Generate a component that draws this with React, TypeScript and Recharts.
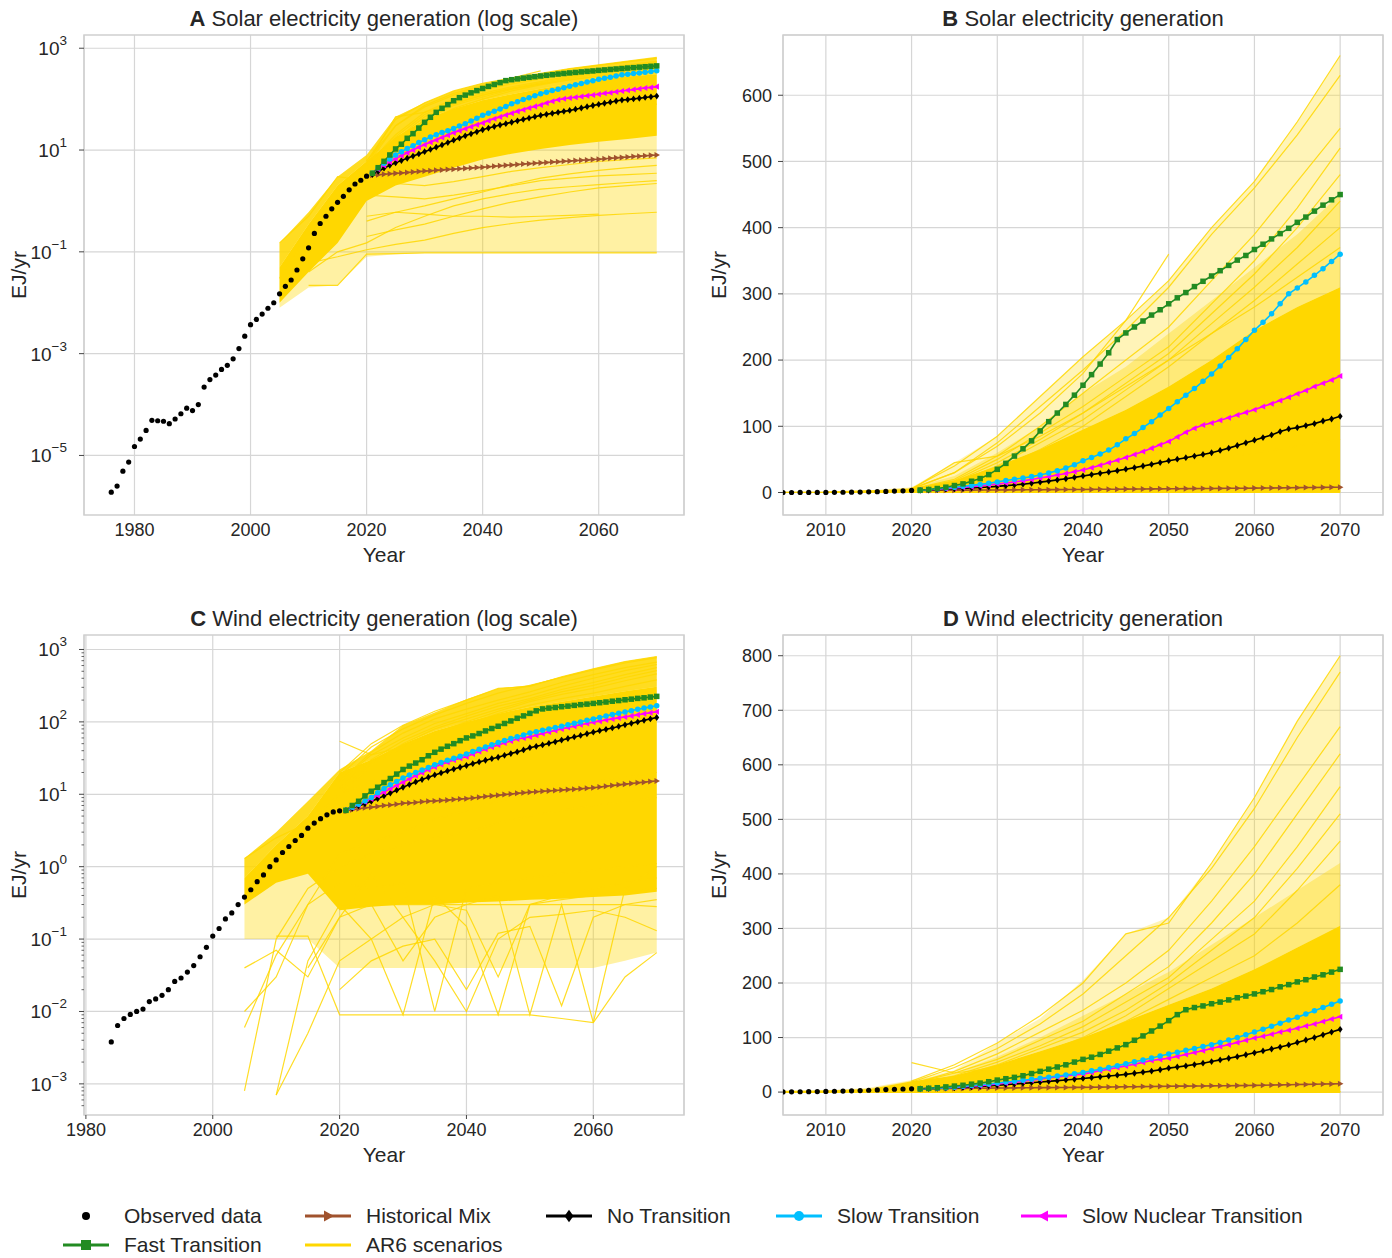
import React from "react";
import {
  ComposedChart,
  Line,
  Area,
  XAxis,
  YAxis,
  CartesianGrid,
  ReferenceArea,
  Label,
} from "recharts";

// ---------- observed data ----------
const observedSolarYears = [
  1976, 1977, 1978, 1979, 1980, 1981, 1982, 1983, 1984, 1985, 1986, 1987, 1988, 1989, 1990,
  1991, 1992, 1993, 1994, 1995, 1996, 1997, 1998, 1999, 2000, 2001, 2002, 2003, 2004, 2005,
  2006, 2007, 2008, 2009, 2010, 2011, 2012, 2013, 2014, 2015, 2016, 2017, 2018, 2019, 2020,
];
const observedSolar = [
  1.9e-6, 2.5e-6, 4.9e-6, 7.4e-6, 1.5e-5, 2.1e-5, 3.1e-5, 4.9e-5, 4.8e-5, 4.7e-5,
  4.2e-5, 5.2e-5, 6.6e-5, 8.5e-5, 7.6e-5, 1.0e-4, 2.2e-4, 3.1e-4, 3.8e-4, 4.9e-4,
  5.9e-4, 7.9e-4, 1.26e-3, 2.2e-3, 3.7e-3, 4.7e-3, 6.0e-3, 7.8e-3, 1.0e-2, 1.5e-2,
  2.1e-2, 2.8e-2, 4.4e-2, 7.3e-2, 0.12, 0.23, 0.36, 0.5, 0.7, 0.94,
  1.23, 1.65, 2.15, 2.55, 3.06,
];
const observedWindYears = [
  1984, 1985, 1986, 1987, 1988, 1989, 1990, 1991, 1992, 1993, 1994, 1995, 1996, 1997, 1998,
  1999, 2000, 2001, 2002, 2003, 2004, 2005, 2006, 2007, 2008, 2009, 2010, 2011, 2012, 2013,
  2014, 2015, 2016, 2017, 2018, 2019, 2020,
];
const observedWind = [
  3.8e-3, 6.4e-3, 8.0e-3, 9.1e-3, 1.0e-2, 1.08e-2, 1.37e-2, 1.49e-2, 1.67e-2, 2.0e-2,
  2.6e-2, 2.9e-2, 3.5e-2, 4.3e-2, 5.7e-2, 7.7e-2, 0.11, 0.14, 0.19, 0.23,
  0.3, 0.38, 0.48, 0.62, 0.77, 1.0, 1.24, 1.57, 1.9, 2.3,
  2.7, 3.4, 4.0, 4.6, 5.2, 5.7, 5.9,
];

// ---------- model scenarios (2021-2070) ----------
const scenarioYears = [
  2021, 2022, 2023, 2024, 2025, 2026, 2027, 2028, 2029, 2030,
  2031, 2032, 2033, 2034, 2035, 2036, 2037, 2038, 2039, 2040,
  2041, 2042, 2043, 2044, 2045, 2046, 2047, 2048, 2049, 2050,
  2051, 2052, 2053, 2054, 2055, 2056, 2057, 2058, 2059, 2060,
  2061, 2062, 2063, 2064, 2065, 2066, 2067, 2068, 2069, 2070,
];

const solarHistoricalMix = [
  3.2, 3.27, 3.34, 3.41, 3.48, 3.55, 3.62, 3.7, 3.78, 3.86,
  3.93, 4.0, 4.07, 4.14, 4.21, 4.28, 4.36, 4.44, 4.52, 4.6,
  4.7, 4.8, 4.9, 5.0, 5.1, 5.2, 5.3, 5.4, 5.5, 5.6,
  5.7, 5.8, 5.9, 6.0, 6.1, 6.2, 6.3, 6.4, 6.5, 6.6,
  6.74, 6.88, 7.02, 7.16, 7.3, 7.44, 7.58, 7.72, 7.86, 8.0,
];
const solarNoTransition = [
  3.3, 3.8, 4.4, 5, 5.6, 6.2, 6.9, 7.6, 8.4, 9.3,
  10.3, 11.4, 12.6, 14, 15.6, 17.2, 19, 20.8, 22.8, 25,
  27, 29, 31, 33, 35.2, 37.5, 40, 42.5, 45.2, 48,
  50.3, 52.6, 55, 57.5, 60, 63.5, 67, 71, 75, 79,
  83, 87, 92, 96, 98, 101, 104, 108, 111, 115,
];
const solarSlowTransition = [
  3.5, 4.5, 5.5, 6.7, 8, 9.3, 10.7, 12.2, 14, 16,
  18, 20, 22, 24, 26.5, 29.5, 33, 37, 42, 48,
  53, 58, 64, 72, 81, 89, 98, 107, 117, 127,
  137, 147, 157, 168, 179, 191, 204, 217, 231, 245,
  257, 270, 285, 300, 309, 318, 328, 338, 349, 360,
];
const solarSlowNuclear = [
  3.5, 4.2, 5, 5.8, 6.7, 7.7, 8.8, 10, 11.3, 12.7,
  14.2, 15.8, 17.6, 19.6, 21.8, 24, 26.3, 28.7, 31.3, 34,
  37.5, 41, 44.8, 48.8, 53, 57.5, 62, 67, 72, 77,
  84, 91, 97, 102, 105, 109, 113, 117, 121, 125,
  130, 134, 139, 144, 149, 154, 160, 165, 170, 176,
];
const solarFastTransition = [
  3.5, 4.5, 6, 8, 10.5, 13, 17, 21, 27, 35,
  44, 55, 66, 78, 93, 107, 120, 133, 147, 162,
  178, 194, 211, 231, 241, 250, 259, 268, 276, 285,
  294, 302, 311, 319, 327, 335, 343, 351, 358, 367,
  375, 383, 391, 399, 408, 416, 425, 434, 442, 450,
];

const windHistoricalMix = [
  5.9, 6.1, 6.3, 6.5, 6.6, 6.8, 7.0, 7.1, 7.3, 7.5,
  7.6, 7.7, 7.9, 8.0, 8.1, 8.2, 8.3, 8.45, 8.6, 8.7,
  8.9, 9.1, 9.3, 9.5, 9.7, 9.9, 10.1, 10.3, 10.5, 10.7,
  10.85, 11.0, 11.15, 11.3, 11.45, 11.6, 11.75, 11.9, 12.1, 12.3,
  12.6, 12.9, 13.2, 13.5, 13.8, 14.1, 14.4, 14.7, 15.0, 15.3,
];
const windNoTransition = [
  6, 6.4, 6.9, 7.4, 8, 8.7, 9.5, 10.4, 11.4, 12.5,
  13.6, 14.8, 16, 17.2, 18.5, 19.7, 21, 22.3, 23.6, 25,
  26.5, 28, 29.5, 31, 32.5, 34.5, 36.5, 38.5, 41, 44,
  46, 48, 50.5, 53, 56, 59, 62, 65, 68.5, 72,
  75.5, 79, 82.5, 86.5, 91, 95.5, 100, 105, 110, 115,
];
const windSlowTransition = [
  6, 6.6, 7.3, 8.1, 9, 10.5, 12, 13.5, 15, 16.8,
  18.4, 20, 21.7, 23.5, 25.5, 27.4, 29.4, 31.4, 33.6, 36,
  39, 42, 45, 48.5, 52, 55.5, 59, 62.5, 66, 70,
  73, 76.5, 80, 83.5, 87, 91, 95.5, 100, 105, 110,
  115, 120.5, 126, 132, 137, 143, 149, 155, 161, 167,
];
const windSlowNuclear = [
  6, 6.5, 7.1, 7.8, 8.6, 9.6, 10.7, 11.9, 13.2, 14.7,
  16.3, 18, 19.8, 21.8, 23.8, 25.8, 27.8, 29.8, 31.4, 33,
  36, 39, 42, 45, 48, 51, 54.5, 58, 60, 62,
  65.5, 69, 72.5, 76, 80, 83.5, 87, 91, 95, 99,
  102.5, 106, 110, 113.5, 117, 121, 125, 129.5, 134, 138,
];
const windFastTransition = [
  6, 7, 8, 9.5, 11, 12.5, 14.5, 16.5, 19, 22,
  24.5, 27, 30, 34, 38, 42, 46, 50, 55, 60,
  64, 69, 75, 81, 87, 95, 103, 112, 121, 131,
  142, 151, 155, 158, 162, 165, 169, 173, 176, 180,
  184, 188, 193, 197, 202, 206, 211, 215, 220, 225,
];

// ---------- AR6 scenario ensemble (5-year steps) ----------
const ar6Years = [2005, 2010, 2015, 2020, 2025, 2030, 2035, 2040, 2045, 2050, 2055, 2060, 2065, 2070];

// envelope of all scenarios, the densely packed core, and the upper region where lines still crowd
const ar6SolarMin = [0.008, 0.02, 0.022, 0.08, 0.09, 0.095, 0.095, 0.095, 0.095, 0.095, 0.095, 0.095, 0.095, 0.095];
const ar6SolarLow = [0.01, 0.04, 0.15, 1.0, 2, 3, 4.5, 6.5, 8.5, 10.5, 12.5, 14.5, 16.5, 19];
const ar6SolarHigh = [0.05, 0.35, 2, 6, 18, 40, 65, 95, 125, 160, 200, 245, 280, 310];
const ar6SolarCrowd = [0.1, 0.5, 2.5, 7, 25, 60, 100, 150, 190, 240, 290, 340, 390, 450];
const ar6SolarMax = [0.15, 0.6, 3, 8, 45, 85, 145, 205, 260, 320, 400, 470, 560, 660];

const ar6WindMin = [0.1, 0.1, 0.1, 0.04, 0.04, 0.04, 0.04, 0.04, 0.04, 0.04, 0.04, 0.04, 0.05, 0.065];
const ar6WindLow = [0.3, 0.6, 0.8, 0.25, 0.28, 0.3, 0.3, 0.32, 0.33, 0.35, 0.36, 0.38, 0.4, 0.45];
const ar6WindHigh = [0.7, 2, 5, 20, 30, 50, 75, 100, 130, 160, 190, 225, 265, 305];
const ar6WindCrowd = [1.0, 2.5, 6, 21, 35, 65, 100, 140, 180, 220, 270, 320, 370, 420];
const ar6WindMax = [1.3, 3, 8, 22, 40, 90, 135, 205, 290, 320, 420, 540, 680, 800];

// a selection of individual AR6 pathways
const ar6SolarPaths: (number | null)[][] = [
  [null, null, null, 6, 40, 85, 145, 205, 260, 320, 400, 470, 560, 660],
  [null, null, null, 6, 30, 75, 130, 185, 245, 310, 390, 460, 540, 630],
  [null, null, null, 5, 30, 70, 120, 180, 260, 360, null, null, null, null],
  [null, null, null, 5, 20, 55, 100, 150, 200, 250, 320, 390, 470, 550],
  [null, null, null, 5, 18, 50, 90, 130, 175, 220, 285, 350, 430, 520],
  [null, null, null, 5, 16, 45, 80, 120, 165, 210, 270, 330, 400, 480],
  [null, null, null, 5, 14, 40, 75, 110, 155, 200, 255, 310, 370, 440],
  [null, null, null, 4, 12, 35, 65, 100, 145, 190, 240, 290, 345, 400],
  [null, null, null, 5, 45, 55, 85, 120, 160, 200, 240, 280, 325, 370],
  [null, 0.022, 0.022, 0.09, 0.092, 0.095, 0.095, 0.095, 0.095, 0.095, 0.095, 0.095, 0.095, 0.095],
  [null, 0.06, 0.08, 0.11, 0.14, 0.17, 0.23, 0.3, 0.36, 0.42, 0.47, 0.52, 0.56, 0.6],
  [null, null, null, 0.2, 0.27, 0.35, 0.5, 0.7, 0.95, 1.2, 1.5, 1.8, 2.0, 2.2],
  [null, null, 0.8, 1.3, 1.2, 1.1, 1.3, 1.6, 2.0, 2.5, 2.8, 3.1, 3.3, 3.5],
  [null, null, null, 0.4, 0.6, 0.8, 1.1, 1.5, 2.1, 2.8, 3.4, 4.0, 4.5, 5.0],
  [0.15, 0.5, 3, 2.5, 2.2, 2, 2.4, 3, 3.8, 4.5, 5.2, 6, 6.5, 7],
  [0.03, 0.2, 1.0, 3, 6, 10, 15, 22, 30, 40, 50, 60, 70, 80],
  [null, 0.04, 0.1, 0.15, 0.3, 0.5, 0.8, 1.1, 1.4, 1.7, 1.9, 2.1, 2.3, 2.5],
  [null, null, null, 0.5, 0.6, 0.55, 0.5, 0.5, 0.48, 0.5, 0.52, 0.55, null, null],
];
const ar6WindPaths: (number | null)[][] = [
  [null, null, null, 20, 50, 90, 140, 200, 290, 310, 420, 540, 680, 800],
  [null, null, null, 18, 45, 80, 125, 180, 250, 320, 410, 520, 650, 770],
  [null, null, null, 15, 38, 70, 110, 150, 200, 260, 350, 450, 560, 670],
  [null, null, null, 15, 35, 60, 95, 130, 180, 230, 310, 400, 510, 620],
  [null, null, null, 12, 30, 55, 85, 120, 165, 210, 280, 350, 450, 560],
  [null, null, null, 12, 28, 50, 80, 110, 150, 200, 260, 320, 410, 510],
  [null, null, null, 10, 25, 45, 70, 100, 140, 190, 240, 290, 370, 460],
  [null, null, null, 54, 35, 45, 70, 95, 130, 170, 210, 250, 310, 380],
  [0.0008, 0.1, 0.5, 1.0, 1.5, 2, 2.5, 3, 4, 5, 6, 7, 8, 9],
  [null, 0.0007, 0.05, 0.3, 0.3, 0.3, 0.3, 0.3, 0.3, 0.3, 0.3, 0.3, 0.3, 0.28],
  [null, 0.11, 0.11, 0.009, 0.009, 0.009, 0.009, 0.009, 0.009, 0.009, 0.008, 0.007, 0.03, 0.065],
  [0.006, 0.06, 0.3, 1.5, 2.2, 3, 4.5, 6, 8, 10, 12, 15, 17, 20],
  [null, null, null, 0.3, 0.1, 0.009, 0.4, 0.15, 0.009, 0.3, 0.35, 0.4, 0.45, 0.5],
  [0.04, 0.07, 0.03, 0.2, 0.8, 0.2, 0.05, 0.01, 0.1, 0.2, 0.22, 0.25, 0.2, 0.13],
  [1.3, 2.5, 4, 10, 15, 20, 30, 40, 55, 70, 85, 100, 125, 150],
  [0.01, 0.03, 0.3, 0.6, 0.5, 0.6, 0.01, 0.5, 0.6, 0.7, 0.8, 0.9, 1, 1.1],
  [null, 0.0007, 0.005, 0.05, 0.1, 0.2, 0.3, 0.25, 0.03, 0.3, 0.4, 0.5, 0.6, 0.7],
  [null, null, 0.04, 0.2, 0.3, 0.05, 0.2, 0.3, 0.4, 0.009, 0.3, 0.007, 0.5, 1.0],
  [null, null, null, 0.02, 0.05, 0.08, 0.1, 0.02, 0.12, 0.15, 0.012, 0.2, 0.3, 0.35],
];

// ---------- styling ----------
const FONT = '"Liberation Sans", Arial, Helvetica, sans-serif';
const TEXT = "#262626";
const GRID = "#d6d6d6";
const GOLD = "#FFD700";

type Shape = "dot" | "square" | "diamond" | "circle" | "triRight" | "triLeft";

const COLORS = {
  hist: "#A0522D",
  none: "#000000",
  slow: "#00BFFF",
  nuclear: "#FF00FF",
  fast: "#228B22",
};

const marker = (shape: Shape, cx: number, cy: number, s: number, color: string, key?: string | number) => {
  switch (shape) {
    case "square":
      return <rect key={key} x={cx - s / 2} y={cy - s / 2} width={s} height={s} fill={color} />;
    case "diamond":
      return (
        <polygon
          key={key}
          points={`${cx},${cy - s * 0.62} ${cx + s * 0.45},${cy} ${cx},${cy + s * 0.62} ${cx - s * 0.45},${cy}`}
          fill={color}
        />
      );
    case "triRight":
      return (
        <polygon
          key={key}
          points={`${cx + s * 0.6},${cy} ${cx - s * 0.4},${cy - s * 0.55} ${cx - s * 0.4},${cy + s * 0.55}`}
          fill={color}
        />
      );
    case "triLeft":
      return (
        <polygon
          key={key}
          points={`${cx - s * 0.6},${cy} ${cx + s * 0.4},${cy - s * 0.55} ${cx + s * 0.4},${cy + s * 0.55}`}
          fill={color}
        />
      );
    default:
      return <circle key={key} cx={cx} cy={cy} r={s / 2} fill={color} />;
  }
};

type ScenarioDef = { key: string; color: string; shape: Shape; values: number[] };

const solarScenarios: ScenarioDef[] = [
  { key: "hist", color: COLORS.hist, shape: "triRight", values: solarHistoricalMix },
  { key: "none", color: COLORS.none, shape: "diamond", values: solarNoTransition },
  { key: "nuclear", color: COLORS.nuclear, shape: "triLeft", values: solarSlowNuclear },
  { key: "slow", color: COLORS.slow, shape: "circle", values: solarSlowTransition },
  { key: "fast", color: COLORS.fast, shape: "square", values: solarFastTransition },
];
const windScenarios: ScenarioDef[] = [
  { key: "hist", color: COLORS.hist, shape: "triRight", values: windHistoricalMix },
  { key: "none", color: COLORS.none, shape: "diamond", values: windNoTransition },
  { key: "nuclear", color: COLORS.nuclear, shape: "triLeft", values: windSlowNuclear },
  { key: "slow", color: COLORS.slow, shape: "circle", values: windSlowTransition },
  { key: "fast", color: COLORS.fast, shape: "square", values: windFastTransition },
];

// log axis tick: "10^n" label on the decades, a short mark only on the minor ticks
const LogTick = (props: any) => {
  const { x, y, payload } = props;
  const e = Math.log10(payload.value);
  const exp = Math.round(e);
  if (Math.abs(e - exp) > 1e-6) {
    return <line x1={x - 2.5} x2={x} y1={y} y2={y} stroke="#555" strokeWidth={0.9} />;
  }
  return (
    <g>
      <line x1={x - 5} x2={x} y1={y} y2={y} stroke="#444" strokeWidth={1} />
      <text x={x - 17} y={y + 7} textAnchor="end" fontSize={19} fill={TEXT} fontFamily={FONT}>
        10
        <tspan dy={-10} fontSize={13.5}>
          {exp < 0 ? `\u2212${Math.abs(exp)}` : `${exp}`}
        </tspan>
      </text>
    </g>
  );
};

type PanelProps = {
  left: number;
  top: number;
  width: number;
  letter: string;
  title: string;
  log: boolean;
  xDomain: [number, number];
  xTicks: number[];
  xTickMarks?: boolean;
  yDomain: [number, number];
  yTicks: number[];
  minorTicks?: number[];
  obsYears: number[];
  obsValues: number[];
  scenarios: ScenarioDef[];
  bandMin: number[];
  bandLow: number[];
  bandHigh: number[];
  bandCrowd: number[];
  bandMax: number[];
  paths: (number | null)[][];
};

const Panel = (p: PanelProps) => {
  const height = 580;
  const marginLeft = 10;
  const marginRight = p.width === 700 ? 16 : 9;
  const yAxisWidth = p.width - 600 - marginLeft - marginRight;
  const obsRows = p.obsYears.map((year, i) => ({ year, value: p.obsValues[i] }));
  const paleRows = ar6Years.map((year, i) => ({ year, band: [p.bandMin[i], p.bandMax[i]] }));
  // on the log axes the crowded upper lines merge into a near-solid fill
  const crowdRows = ar6Years.map((year, i) => ({
    year,
    band: [p.bandHigh[i], p.log ? p.bandMax[i] : p.bandCrowd[i]],
  }));
  const coreRows = ar6Years.map((year, i) => ({
    year,
    band: [p.log ? p.bandLow[i] : p.bandMin[i], p.bandHigh[i]],
  }));
  const tickStyle = { fontSize: 18, fill: TEXT, fontFamily: FONT };
  const yTicks = p.log && p.minorTicks ? [...p.yTicks, ...p.minorTicks] : p.yTicks;

  // grid only on the labelled decades (minor ticks get no grid line)
  const logGrid = (args: any) => {
    const sc = args?.yAxis?.scale;
    if (typeof sc === "function") return p.yTicks.map((v) => sc(v));
    if (sc && typeof sc.map === "function") return p.yTicks.map((v) => sc.map(v));
    const top = args?.offset?.top ?? 35;
    const h = args?.offset?.height ?? 480;
    const lo = Math.log10(p.yDomain[0]);
    const hi = Math.log10(p.yDomain[1]);
    return p.yTicks.map((v) => top + ((hi - Math.log10(v)) / (hi - lo)) * h);
  };

  return (
    <div style={{ position: "absolute", left: p.left, top: p.top, width: p.width, height }}>
      <div
        style={{
          position: "absolute",
          left: marginLeft + yAxisWidth,
          top: 6,
          width: 600,
          textAlign: "center",
          fontSize: 22,
          lineHeight: "26px",
          color: TEXT,
        }}
      >
        <b>{p.letter}</b> {p.title}
      </div>
      <ComposedChart
        width={p.width}
        height={height}
        margin={{ top: 35, right: marginRight, bottom: 15, left: marginLeft }}
      >
        <CartesianGrid
          stroke={GRID}
          strokeWidth={1.2}
          horizontalCoordinatesGenerator={p.log ? logGrid : undefined}
        />
        <XAxis
          type="number"
          dataKey="year"
          domain={p.xDomain}
          ticks={p.xTicks}
          allowDataOverflow
          axisLine={false}
          tickLine={p.xTickMarks ? { stroke: "#444" } : false}
          tickSize={p.xTickMarks ? 4 : 6}
          tickMargin={p.xTickMarks ? 4 : 2}
          tick={tickStyle}
          height={50}
        >
          <Label value="Year" position="insideBottom" offset={3} style={{ fontSize: 21, fill: TEXT, fontFamily: FONT }} />
        </XAxis>
        <YAxis
          type="number"
          scale={p.log ? "log" : "linear"}
          domain={p.yDomain}
          ticks={yTicks}
          interval={0}
          allowDataOverflow
          axisLine={false}
          tickLine={p.log ? false : { stroke: "#444" }}
          tickSize={p.log ? 0 : 5}
          tickMargin={p.log ? 0 : 6}
          width={yAxisWidth}
          tick={p.log ? <LogTick /> : tickStyle}
        >
          <Label
            value="EJ/yr"
            angle={-90}
            position="insideLeft"
            offset={9}
            style={{ fontSize: 21, fill: TEXT, fontFamily: FONT, textAnchor: "middle" }}
          />
        </YAxis>
        <ReferenceArea
          x1={p.xDomain[0]}
          x2={p.xDomain[1]}
          y1={p.yDomain[0]}
          y2={p.yDomain[1]}
          fill="none"
          stroke="#cfcfcf"
          strokeWidth={1.5}
        />
        <Area
          data={paleRows}
          dataKey="band"
          stroke="none"
          fill={GOLD}
          fillOpacity={p.log ? 0.36 : 0.28}
          isAnimationActive={false}
        />
        <Area
          data={crowdRows}
          dataKey="band"
          stroke="none"
          fill={GOLD}
          fillOpacity={p.log ? 0.8 : 0.35}
          isAnimationActive={false}
        />
        <Area data={coreRows} dataKey="band" stroke="none" fill={GOLD} fillOpacity={1} isAnimationActive={false} />
        {p.paths.map((path, k) => (
          <Line
            key={`ar6-${k}`}
            data={ar6Years
              .map((year, i) => ({ year, value: path[i] }))
              .filter((r) => r.value != null)}
            dataKey="value"
            stroke={GOLD}
            strokeWidth={1.2}
            strokeOpacity={0.85}
            dot={false}
            activeDot={false}
            isAnimationActive={false}
          />
        ))}
        {p.scenarios.map((s) => (
          <Line
            key={s.key}
            data={scenarioYears.map((year, i) => ({ year, value: s.values[i] }))}
            dataKey="value"
            stroke={s.color}
            strokeWidth={1.6}
            dot={(d: any) => marker(s.shape, d.cx, d.cy, 5.5, s.color, `${s.key}-${d.index}`)}
            activeDot={false}
            isAnimationActive={false}
          />
        ))}
        <Line
          data={obsRows}
          dataKey="value"
          stroke="none"
          dot={(d: any) => marker("dot", d.cx, d.cy, 5.2, "#000", `obs-${d.index}`)}
          activeDot={false}
          isAnimationActive={false}
        />
      </ComposedChart>
    </div>
  );
};

type LegendEntry = { label: string; color: string; shape: Shape | "line"; withLine: boolean; left: number; top: number };

const legendEntries: LegendEntry[] = [
  { label: "Observed data", color: "#000", shape: "dot", withLine: false, left: 62, top: 1216 },
  { label: "Historical Mix", color: COLORS.hist, shape: "triRight", withLine: true, left: 304, top: 1216 },
  { label: "No Transition", color: COLORS.none, shape: "diamond", withLine: true, left: 545, top: 1216 },
  { label: "Slow Transition", color: COLORS.slow, shape: "circle", withLine: true, left: 775, top: 1216 },
  { label: "Slow Nuclear Transition", color: COLORS.nuclear, shape: "triLeft", withLine: true, left: 1020, top: 1216 },
  { label: "Fast Transition", color: COLORS.fast, shape: "square", withLine: true, left: 62, top: 1245 },
  { label: "AR6 scenarios", color: GOLD, shape: "line", withLine: true, left: 304, top: 1245 },
];

const Legend = () => (
  <>
    {legendEntries.map((e) => (
      <div
        key={e.label}
        style={{ position: "absolute", left: e.left, top: e.top - 12, height: 24, display: "flex", alignItems: "center" }}
      >
        <svg width={48} height={24}>
          {e.withLine && <line x1={1} y1={12} x2={47} y2={12} stroke={e.color} strokeWidth={3} />}
          {e.shape !== "line" && marker(e.shape as Shape, 24, 12, e.shape === "dot" ? 8 : 10, e.color)}
        </svg>
        <span style={{ marginLeft: 14, fontSize: 21, color: TEXT, whiteSpace: "nowrap" }}>{e.label}</span>
      </div>
    ))}
  </>
);

const windMinorTicks = [
  0.0005, 0.0006, 0.0007, 0.0008, 0.0009,
  0.002, 0.003, 0.004, 0.005, 0.006, 0.007, 0.008, 0.009,
  0.02, 0.03, 0.04, 0.05, 0.06, 0.07, 0.08, 0.09,
  0.2, 0.3, 0.4, 0.5, 0.6, 0.7, 0.8, 0.9,
  2, 3, 4, 5, 6, 7, 8, 9,
  20, 30, 40, 50, 60, 70, 80, 90,
  200, 300, 400, 500, 600, 700, 800, 900,
];

export default function App() {
  return (
    <div
      style={{
        position: "absolute",
        left: 0,
        top: 0,
        width: 1392,
        height: 1258,
        background: "#fff",
        fontFamily: FONT,
      }}
    >
      <Panel
        left={0}
        top={0}
        width={700}
        letter="A"
        title="Solar electricity generation (log scale)"
        log
        xDomain={[1971.3, 2074.7]}
        xTicks={[1980, 2000, 2020, 2040, 2060]}
        yDomain={[Math.pow(10, -6.17), Math.pow(10, 3.26)]}
        yTicks={[1e-5, 1e-3, 1e-1, 1e1, 1e3]}
        obsYears={observedSolarYears}
        obsValues={observedSolar}
        scenarios={solarScenarios}
        bandMin={ar6SolarMin}
        bandLow={ar6SolarLow}
        bandHigh={ar6SolarHigh}
        bandCrowd={ar6SolarCrowd}
        bandMax={ar6SolarMax}
        paths={ar6SolarPaths}
      />
      <Panel
        left={700}
        top={0}
        width={692}
        letter="B"
        title="Solar electricity generation"
        log={false}
        xDomain={[2005, 2075]}
        xTicks={[2010, 2020, 2030, 2040, 2050, 2060, 2070]}
        yDomain={[-34, 691]}
        yTicks={[0, 100, 200, 300, 400, 500, 600]}
        obsYears={observedSolarYears}
        obsValues={observedSolar}
        scenarios={solarScenarios}
        bandMin={ar6SolarMin}
        bandLow={ar6SolarLow}
        bandHigh={ar6SolarHigh}
        bandCrowd={ar6SolarCrowd}
        bandMax={ar6SolarMax}
        paths={ar6SolarPaths}
      />
      <Panel
        left={0}
        top={600}
        width={700}
        letter="C"
        title="Wind electricity generation (log scale)"
        log
        xDomain={[1979.7, 2074.3]}
        xTicks={[1980, 2000, 2020, 2040, 2060]}
        xTickMarks
        yDomain={[Math.pow(10, -3.43), Math.pow(10, 3.2)]}
        yTicks={[1e-3, 1e-2, 1e-1, 1, 1e1, 1e2, 1e3]}
        minorTicks={windMinorTicks}
        obsYears={observedWindYears}
        obsValues={observedWind}
        scenarios={windScenarios}
        bandMin={ar6WindMin}
        bandLow={ar6WindLow}
        bandHigh={ar6WindHigh}
        bandCrowd={ar6WindCrowd}
        bandMax={ar6WindMax}
        paths={ar6WindPaths}
      />
      <Panel
        left={700}
        top={600}
        width={692}
        letter="D"
        title="Wind electricity generation"
        log={false}
        xDomain={[2005, 2075]}
        xTicks={[2010, 2020, 2030, 2040, 2050, 2060, 2070]}
        yDomain={[-42, 838]}
        yTicks={[0, 100, 200, 300, 400, 500, 600, 700, 800]}
        obsYears={observedWindYears}
        obsValues={observedWind}
        scenarios={windScenarios}
        bandMin={ar6WindMin}
        bandLow={ar6WindLow}
        bandHigh={ar6WindHigh}
        bandCrowd={ar6WindCrowd}
        bandMax={ar6WindMax}
        paths={ar6WindPaths}
      />
      <Legend />
    </div>
  );
}
